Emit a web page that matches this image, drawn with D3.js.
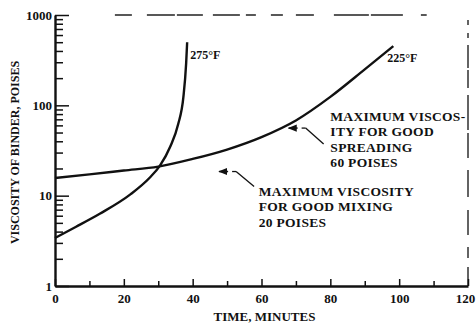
<!DOCTYPE html>
<html>
<head>
<meta charset="utf-8">
<script src="https://cdn.jsdelivr.net/npm/d3@7"></script>
<style>
    body{ margin:0; background:#fff; }
    svg text{ font-family:"Liberation Serif", "Times New Roman", serif; font-weight:bold; fill:#111; }
    .axis path, .axis line{ stroke:#111; }
</style>
</head>
<body>
<div id="chart"></div>
<script>
// time (minutes) and viscosity (poises)
let time275 = [0, 6, 13, 22, 27.5, 30.5, 33.5, 35.8, 37.3, 38.1, 38.4];
let visc275 = [3.4, 4.5, 6.3, 10.4, 15.8, 21.5, 35, 62, 123, 290, 500];
let time225 = [0, 10, 20, 30, 40, 50, 60, 70, 80, 90, 98.3];
let visc225 = [15.7, 17.2, 19, 21, 25.5, 32.4, 44.5, 68, 124, 250, 452];

let xTicks = [0, 20, 40, 60, 80, 100, 120];
let xMinorTicks = [10, 30, 50, 70, 90, 110];
let yTicks = [1, 10, 100, 1000];
let curveLabels = ["275°F", "225°F"];
let spreadNote = ["MAXIMUM VISCOS-", "ITY FOR GOOD", "SPREADING", "60 POISES"];
let mixNote = ["MAXIMUM VISCOSITY", "FOR GOOD MIXING", "20 POISES"];

let width = 476, height = 325;
let margin = {left: 55, right: 8, top: 15, bottom: 39};

let svg = d3.select("#chart").append("svg")
    .attr("width", width)
    .attr("height", height);

let x = d3.scaleLinear()
    .domain([0, 120])
    .range([margin.left, width - margin.right]);

let y = d3.scaleLog()
    .domain([1, 1000])
    .range([height - margin.bottom, margin.top]);

//minor log ticks 2..9 per decade
let yMinor = [];
yTicks.slice(0, -1).forEach(function(d){
    for(let k = 2; k < 10; k++) yMinor.push(d * k);
});

//frame remains (broken top and right edge of the scan)
svg.append("line")
    .attr("x1", x(17.4)).attr("x2", x(108))
    .attr("y1", y(1000)).attr("y2", y(1000))
    .attr("stroke", "#222").attr("stroke-width", 1.4)
    .attr("stroke-dasharray", "17,15,28,2,26,10,27,6,10,15,12,13,18,20,35,2,32,18,17,40");

svg.append("line")
    .attr("x1", x(120)).attr("x2", x(120))
    .attr("y1", y(1000) + 5).attr("y2", y(1))
    .attr("stroke", "#222").attr("stroke-width", 1.4)
    .attr("stroke-dasharray", "5,8,5,7,23,2,18,7,35,3,25,12,27,13,25,12,11,9,30");

//axes
let yAxis = svg.append("g")
    .attr("class", "axis y")
    .attr("transform", "translate(" + x(0) + ",0)")
    .call(d3.axisLeft(y)
        .tickValues(yTicks.concat(yMinor))
        .tickSizeInner(-8)
        .tickSizeOuter(0)
        .tickPadding(3)
        .tickFormat(function(d){ return yTicks.indexOf(d) >= 0 ? d : ""; }));

yAxis.select(".domain").attr("stroke-width", 2.4);
yAxis.selectAll(".tick line")
    .attr("stroke-width", 1.5)
    .attr("x2", function(d){ return yTicks.indexOf(d) >= 0 ? 14 : 8; });
yAxis.selectAll(".tick text")
    .style("font-size", "13px")
    .attr("fill", "#111");

let xAxis = svg.append("g")
    .attr("class", "axis x")
    .attr("transform", "translate(0," + y(1) + ")")
    .call(d3.axisBottom(x)
        .tickValues(xTicks.concat(xMinorTicks))
        .tickSizeInner(-7)
        .tickSizeOuter(0)
        .tickPadding(8)
        .tickFormat(function(d){ return xTicks.indexOf(d) >= 0 ? d : ""; }));

xAxis.select(".domain").attr("stroke-width", 2.4);
xAxis.selectAll(".tick line")
    .attr("stroke-width", 1.5)
    .attr("y2", function(d){ return xTicks.indexOf(d) >= 0 ? -7 : -5; });
xAxis.selectAll(".tick text")
    .style("font-size", "13px")
    .attr("fill", "#111")
    .attr("dx", function(d){ return d === 120 ? -3 : 0; });

//axis titles
svg.append("text")
    .attr("x", (x(0) + x(120)) / 2 + 3)
    .attr("y", height - 4)
    .style("text-anchor", "middle")
    .style("font-size", "13px")
    .text("TIME, MINUTES");

svg.append("text")
    .attr("transform", "translate(19," + ((y(1) + y(1000)) / 2 + 2) + ") rotate(-90)")
    .style("text-anchor", "middle")
    .style("font-size", "12px")
    .text("VISCOSITY OF BINDER, POISES");

//curves
let line = d3.line()
    .x(function(d){ return x(d[0]); })
    .y(function(d){ return y(d[1]); })
    .curve(d3.curveMonotoneX);

let series = [
    d3.zip(time275, visc275),
    d3.zip(time225, visc225)
];

svg.selectAll(".curve")
    .data(series)
    .enter()
    .append("path")
    .attr("class", "curve")
    .attr("d", line)
    .attr("fill", "none")
    .attr("stroke", "#111")
    .attr("stroke-width", 2.4);

//curve labels at the upper end of each line
svg.selectAll(".curve-label")
    .data(series)
    .enter()
    .append("text")
    .attr("class", "curve-label")
    .attr("x", function(d, i){ return x(d[d.length - 1][0]) + (i === 0 ? 3 : -6); })
    .attr("y", function(d, i){ return y(d[d.length - 1][1]) + (i === 0 ? 17 : 16); })
    .style("font-size", "12px")
    .text(function(d, i){ return curveLabels[i]; });

//notes with arrows
svg.append("defs").append("marker")
    .attr("id", "head")
    .attr("viewBox", "0 0 10 10")
    .attr("refX", 1).attr("refY", 5)
    .attr("markerWidth", 6).attr("markerHeight", 6)
    .attr("orient", "auto")
    .append("path")
    .attr("d", "M0,5L10,1L10,9Z")
    .attr("fill", "#111");

function note(lines, xText, yFirst, arrowX, arrowY, leaderEnd){
    let g = svg.append("g");
    g.append("line")
        .attr("x1", x(arrowX) + 2).attr("y1", y(arrowY))
        .attr("x2", x(arrowX) + 11).attr("y2", y(arrowY))
        .attr("stroke", "#111").attr("stroke-width", 1.5)
        .attr("marker-start", "url(#head)");
    g.append("line")
        .attr("x1", x(arrowX) + 15).attr("y1", y(arrowY))
        .attr("x2", x(arrowX) + 19).attr("y2", y(arrowY))
        .attr("stroke", "#111").attr("stroke-width", 1.3);
    g.append("line")
        .attr("x1", x(arrowX) + 19).attr("y1", y(arrowY))
        .attr("x2", x(arrowX) + leaderEnd[0]).attr("y2", y(arrowY) + leaderEnd[1])
        .attr("stroke", "#111").attr("stroke-width", 1.3);
    g.append("text")
        .attr("x", x(xText))
        .attr("y", yFirst)
        .style("font-size", "13.5px")
        .style("letter-spacing", "0.3px")
        .selectAll("tspan")
        .data(lines)
        .enter()
        .append("tspan")
        .attr("x", x(xText))
        .attr("dy", function(d, i){ return i === 0 ? 0 : 15.4; })
        .text(function(d){ return d; });
}

note(spreadNote, 80, 121, 67.3, 56, [37, 16]);
note(mixNote, 59.2, 196, 47.1, 18.5, [37, 15]);
</script>
</body>
</html>
